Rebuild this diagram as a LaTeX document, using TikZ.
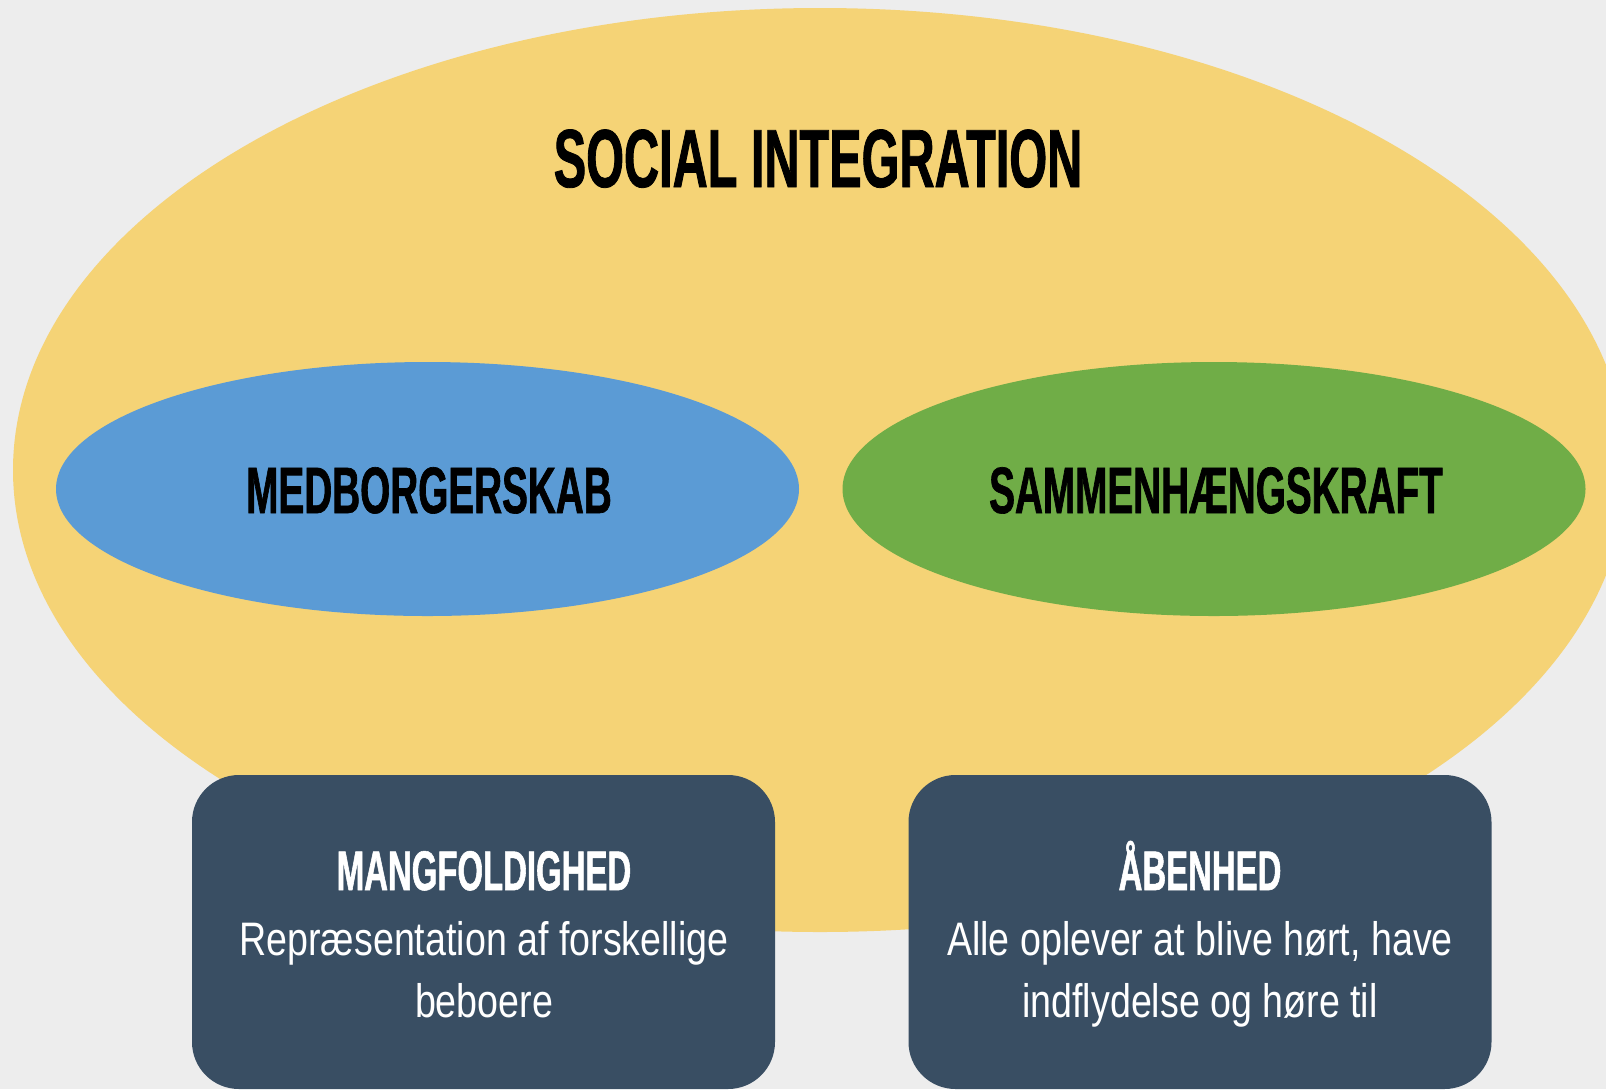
\documentclass[tikz,border=0pt]{standalone}
\usepackage{fontspec}
\setmainfont{Liberation Sans}
\newfontfamily\headfont[FakeStretch=0.59,BoldFeatures={FakeBold=1}]{Liberation Sans}
\newfontfamily\bodyfont[FakeStretch=0.8]{Liberation Sans}
\usetikzlibrary{shapes.geometric}
\definecolor{bgc}{HTML}{EDEDED}
\definecolor{goldE}{HTML}{F5D376}
\definecolor{blueE}{HTML}{5B9BD5}
\definecolor{greenE}{HTML}{70AD47}
\definecolor{cardc}{HTML}{394E63}
\tikzset{
  bigell/.style={ellipse, fill=goldE, inner sep=0pt, minimum width=807pt, minimum height=462pt},
  blob/.style={ellipse, inner sep=0pt, minimum width=371.5pt, minimum height=127pt},
  card/.style={rectangle, fill=cardc, rounded corners=23.5pt, inner sep=0pt, minimum width=291.5pt, minimum height=157pt},
  headtxt/.style={anchor=base, inner sep=0pt, text=black},
  cardhead/.style={anchor=base, inner sep=0pt, text=white, font=\headfont\bfseries\fontsize{27.9pt}{32pt}\selectfont},
  cardbody/.style={anchor=base, inner sep=0pt, text=white, font=\bodyfont\fontsize{23.5pt}{31pt}\selectfont}
}
\begin{document}
\begin{tikzpicture}[x=0.5pt,y=-0.5pt]
\useasboundingbox (0,0) rectangle (1606,1089);
\fill[bgc] (0,0) rectangle (1606,1089);
\begin{scope}
\clip (0,0) rectangle (1606,1089);
\node[bigell] (si) at (820,470) {};
\node[blob, fill=blueE] (med) at (427.5,489) {};
\node[blob, fill=greenE] (sam) at (1214,489) {};
\node[card] (mang) at (483.5,932) {};
\node[card] (aab) at (1200,932) {};
\end{scope}
\node[headtxt, font=\headfont\bfseries\fontsize{41.2pt}{45pt}\selectfont] (sitxt) at (818,187) {SOCIAL INTEGRATION};
\node[headtxt, font=\headfont\bfseries\fontsize{32.8pt}{36pt}\selectfont] (medtxt) at (429,513) {MEDBORGERSKAB};
\node[headtxt, font=\headfont\bfseries\fontsize{32.8pt}{36pt}\selectfont] (samtxt) at (1216,513) {SAMMENHÆNGSKRAFT};
\node[cardhead] (l1) at (484,890) {MANGFOLDIGHED};
\node[cardbody] (l2) at (484,955) {Repræsentation af forskellige};
\node[cardbody] (l3) at (484,1017) {beboere};
\node[cardhead] (r1) at (1200,890) {ÅBENHED};
\node[cardbody] (r2) at (1200,955) {Alle oplever at blive hørt, have};
\node[cardbody] (r3) at (1200,1017) {indflydelse og høre til};
\end{tikzpicture}
\end{document}
